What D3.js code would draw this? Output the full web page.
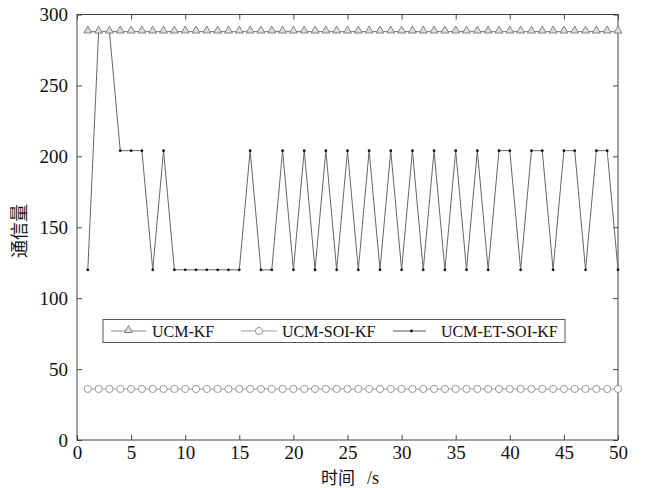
<!DOCTYPE html>
<html>
<head>
<meta charset="utf-8">
<script src="https://cdn.jsdelivr.net/npm/d3@7"></script>
<style>
  body { margin: 0; background: #fff; }
</style>
</head>
<body>
<svg id="chart" width="646" height="488"></svg>
<script>
// time steps 1..50
const steps = d3.range(1, 51);
const ucmKF = steps.map(() => 288);
const ucmSoiKF = steps.map(() => 36);
const ucmEtSoiKF = [120, 288, 288, 204, 204, 204, 120, 204, 120, 120,
                    120, 120, 120, 120, 120, 204, 120, 120, 204, 120,
                    204, 120, 204, 120, 204, 120, 204, 120, 204, 120,
                    204, 120, 204, 120, 204, 120, 204, 120, 204, 204,
                    120, 204, 204, 120, 204, 204, 120, 204, 204, 120];
const xTicks = [0, 5, 10, 15, 20, 25, 30, 35, 40, 45, 50];
const yTicks = [0, 50, 100, 150, 200, 250, 300];
const legendNames = ["UCM-KF", "UCM-SOI-KF", "UCM-ET-SOI-KF"];

const serif = "Liberation Serif, DejaVu Serif, Times New Roman, Times, serif";
const cjk = "Noto Sans CJK SC, sans-serif";

const svg = d3.select("#chart");
const margin = { top: 14.5, right: 28, bottom: 48, left: 77 };
const width = +svg.attr("width") - margin.left - margin.right;
const height = +svg.attr("height") - margin.top - margin.bottom;

const g = svg.append("g").attr("transform", "translate(" + margin.left + "," + margin.top + ")");

const x = d3.scaleLinear().domain([0, 50]).range([0, width]);
const y = d3.scaleLinear().domain([0, 300]).range([height, 0]);

const axisColor = "#444";

// axes with inward ticks, mirrored on top/right
function styleAxis(sel) {
  sel.attr("font-family", null).attr("font-size", null);
  sel.select(".domain").remove();
  sel.selectAll(".tick line").attr("stroke", axisColor);
  sel.selectAll(".tick text").attr("fill", "#111")
    .style("font-family", serif).style("font-size", "19px");
}

g.append("g")
  .attr("transform", "translate(0," + height + ")")
  .call(d3.axisBottom(x).tickValues(xTicks).tickSizeInner(-5).tickSizeOuter(0).tickPadding(6))
  .call(styleAxis)
  .call(s => s.selectAll(".tick text").attr("dy", "0.66em"));

g.append("g")
  .call(d3.axisLeft(y).tickValues(yTicks).tickSizeInner(-5).tickSizeOuter(0).tickPadding(9))
  .call(styleAxis);

g.append("g")
  .call(d3.axisTop(x).tickValues(xTicks).tickSizeInner(-5).tickSizeOuter(0).tickFormat(""))
  .call(styleAxis);

g.append("g")
  .attr("transform", "translate(" + width + ",0)")
  .call(d3.axisRight(y).tickValues(yTicks).tickSizeInner(-5).tickSizeOuter(0).tickFormat(""))
  .call(styleAxis);

g.append("rect")
  .attr("width", width).attr("height", height)
  .attr("fill", "none").attr("stroke", axisColor).attr("stroke-width", 1);

const line = d3.line().x((d, i) => x(steps[i])).y(d => y(d));

// UCM-ET-SOI-KF
g.append("path").datum(ucmEtSoiKF)
  .attr("d", line).attr("fill", "none").attr("stroke", "#666").attr("stroke-width", 1);
g.selectAll(".dot").data(ucmEtSoiKF).join("circle")
  .attr("class", "dot")
  .attr("cx", (d, i) => x(steps[i])).attr("cy", d => y(d))
  .attr("r", 1.4).attr("fill", "#111");

// UCM-KF
g.append("path").datum(ucmKF)
  .attr("d", line).attr("fill", "none").attr("stroke", "#888").attr("stroke-width", 1);
const tri = d3.symbol().type(d3.symbolTriangle).size(28);
g.selectAll(".tri").data(ucmKF).join("path")
  .attr("class", "tri")
  .attr("transform", (d, i) => "translate(" + x(steps[i]) + "," + (y(d) - 0.8) + ")")
  .attr("d", tri).attr("fill", "#ddd").attr("stroke", "#777").attr("stroke-width", 0.9);

// UCM-SOI-KF
g.append("path").datum(ucmSoiKF)
  .attr("d", line).attr("fill", "none").attr("stroke", "#999").attr("stroke-width", 1);
g.selectAll(".circ").data(ucmSoiKF).join("circle")
  .attr("class", "circ")
  .attr("cx", (d, i) => x(steps[i])).attr("cy", d => y(d))
  .attr("r", 3.6).attr("fill", "#fff").attr("stroke", "#999").attr("stroke-width", 1);

// legend
const leg = svg.append("g").attr("transform", "translate(103,319.5)");
leg.append("rect").attr("width", 462).attr("height", 23)
  .attr("fill", "#fff").attr("stroke", "#555").attr("stroke-width", 1);
const legX = [8, 138, 290];
const legLen = [35, 36, 33];
const legTextX = [49, 179, 338];
legendNames.forEach((name, i) => {
  const item = leg.append("g").attr("transform", "translate(" + legX[i] + ",11.5)");
  item.append("line").attr("x1", 0).attr("x2", legLen[i])
    .attr("stroke", i === 2 ? "#555" : (i === 0 ? "#888" : "#999")).attr("stroke-width", 1);
  const cx = legLen[i] / 2;
  if (i === 0) {
    item.append("path").attr("transform", "translate(" + cx + ",-0.8)")
      .attr("d", tri).attr("fill", "#ddd").attr("stroke", "#777").attr("stroke-width", 0.9);
  } else if (i === 1) {
    item.append("circle").attr("cx", cx).attr("r", 3.6)
      .attr("fill", "#fff").attr("stroke", "#999");
  } else {
    item.append("circle").attr("cx", cx + 2).attr("r", 1.4).attr("fill", "#111");
  }
  leg.append("text").attr("x", legTextX[i]).attr("y", 17.5)
    .style("font-family", serif).style("font-size", "16px").attr("fill", "#111").text(name);
});

// axis titles
svg.append("text")
  .attr("x", 321).attr("y", 484)
  .attr("fill", "#111")
  .call(t => {
    t.append("tspan").style("font-family", cjk).style("font-size", "17px").text("时间");
    t.append("tspan").attr("dx", 12).style("font-family", serif).style("font-size", "18px").text("/s");
  });

svg.append("text")
  .attr("transform", "translate(26,231) rotate(-90)")
  .attr("text-anchor", "middle")
  .style("font-family", cjk).style("font-size", "18px").attr("fill", "#111")
  .text("通信量");
</script>
</body>
</html>
